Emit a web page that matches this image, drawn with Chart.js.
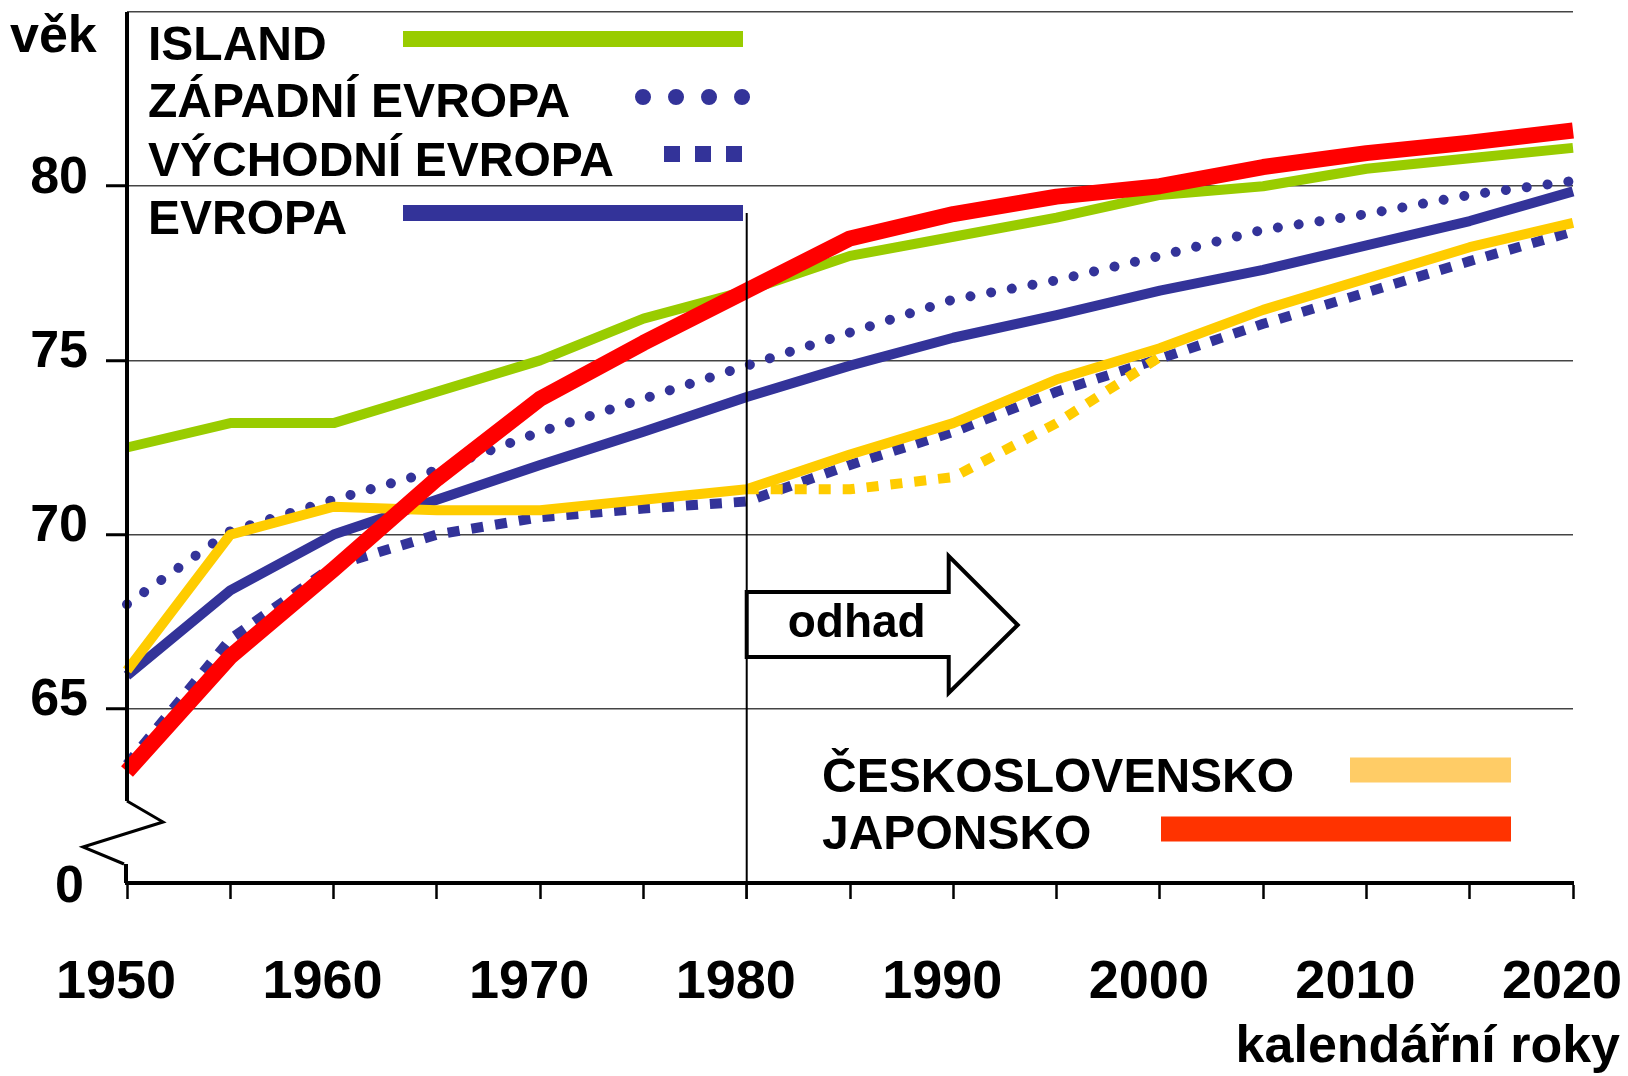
<!DOCTYPE html>
<html lang="cs">
<head>
<meta charset="utf-8">
<title>Naděje dožití</title>
<script src="https://cdn.jsdelivr.net/npm/chart.js@4.4.1/dist/chart.umd.min.js"></script>
<style>
  html, body { margin: 0; padding: 0; background: #fff; }
  #wrap { width: 1628px; height: 1076px; }
</style>
</head>
<body>
<div id="wrap"><canvas id="lifeChart" width="1628" height="1076"></canvas></div>
<script>
// data (věk v letech), čteno z grafu
const years = [1950, 1955, 1960, 1965, 1970, 1975, 1980, 1985, 1990, 1995, 2000, 2005, 2010, 2015, 2020];
const island = [72.5, 73.2, 73.2, 74.1, 75.0, 76.2, 77.0, 78.0, 78.55, 79.1, 79.75, 80.0, 80.5, 80.8, 81.1];
const japonsko = [63.2, 66.5, 69.0, 71.6, 73.9, 75.5, 77.0, 78.5, 79.2, 79.7, 80.0, 80.55, 80.95, 81.25, 81.6];
const zapadniEvropa = [68.0, 70.1, 71.0, 71.85, 72.95, 73.9, 74.85, 75.8, 76.75, 77.3, 78.0, 78.75, 79.2, 79.75, 80.15];
const evropa = [65.95, 68.4, 70.0, 71.0, 72.0, 72.95, 73.95, 74.85, 75.65, 76.3, 77.0, 77.6, 78.3, 79.0, 79.85];
const vychodniEvropa = [63.4, 67.0, 69.1, 70.0, 70.5, 70.75, 70.95, 72.0, 72.95, 74.1, 75.05, 76.05, 76.95, 77.85, 78.7];
const ceskoslovensko = [66.1, 70.0, 70.8, 70.7, 70.7, 71.0, 71.3, 72.3, 73.2, 74.45, 75.35, 76.45, 77.35, 78.25, 78.95];
const ceskoslovenskoAlt = [null, null, null, null, null, null, 71.3, 71.3, 71.65, 73.2, 75.1, null, null, null, null];
const yMin = 60;   // přerušená osa, popsáno jako 0
const yMax = 85;
const yStep = 5;
const forecastFrom = 1980;

const FONT = "'Liberation Sans', Arial, sans-serif";
Chart.defaults.font.family = FONT;

// where the legend entries sit (drawn by hand, like the original slide)
const legendSlots = [
    { label: 'ISLAND', textX: 148, textY: 60, x1: 403, x2: 743, y: 39, width: 16 },
    { label: 'ZÁPADNÍ EVROPA', textX: 148, textY: 117, x1: 643, x2: 743, y: 97, width: 16, dash: [0.01, 33], cap: 'round' },
    { label: 'VÝCHODNÍ EVROPA', textX: 148, textY: 176, x1: 664, x2: 743, y: 154, width: 16, dash: [16, 15] },
    { label: 'EVROPA', textX: 148, textY: 234, x1: 403, x2: 743, y: 213, width: 16 },
    { label: 'ČESKOSLOVENSKO', textX: 822, textY: 792, x1: 1350, x2: 1511, y: 770, width: 25, color: '#FFCC66' },
    { label: 'JAPONSKO', textX: 822, textY: 849, x1: 1161, x2: 1511, y: 829, width: 25, color: '#FF3300' }
];

const overlay = {
    id: 'overlay',
    afterDraw(chart) {
        const ctx = chart.ctx;
        const area = chart.chartArea;
        const xs = chart.scales.x;
        const ys = chart.scales.y;
        const x80 = xs.getPixelForValue(years.indexOf(forecastFrom));
        ctx.save();

        // y axis with break
        const left = area.left;
        const bottom = area.bottom;
        ctx.strokeStyle = '#000';
        ctx.lineWidth = 4;
        ctx.lineJoin = 'miter';
        ctx.beginPath();
        ctx.moveTo(left, area.top);
        ctx.lineTo(left, bottom - 82);
        ctx.stroke();
        ctx.lineWidth = 3;
        ctx.beginPath();
        ctx.moveTo(left, bottom - 82);
        ctx.lineTo(left + 36, bottom - 61);
        ctx.lineTo(left - 44, bottom - 36);
        ctx.lineTo(left - 3, bottom - 19);
        ctx.stroke();
        ctx.lineWidth = 4;
        ctx.beginPath();
        ctx.moveTo(left - 1, bottom - 19);
        ctx.lineTo(left - 1, bottom);
        ctx.stroke();

        // label of the broken origin
        ctx.fillStyle = '#000';
        ctx.font = 'bold 52px ' + FONT;
        ctx.textAlign = 'right';
        ctx.textBaseline = 'middle';
        ctx.fillText('0', 84, ys.getPixelForValue(yMin) + 5);

        // 1980 divider
        ctx.lineWidth = 2;
        ctx.beginPath();
        ctx.moveTo(x80, 213);
        ctx.lineTo(x80, bottom + 16);
        ctx.stroke();

        // odhad arrow
        ctx.lineWidth = 4;
        ctx.fillStyle = '#fff';
        ctx.beginPath();
        ctx.moveTo(x80, 592);
        ctx.lineTo(x80 + 202, 592);
        ctx.lineTo(x80 + 202, 556);
        ctx.lineTo(x80 + 271, 625);
        ctx.lineTo(x80 + 202, 693);
        ctx.lineTo(x80 + 202, 657);
        ctx.lineTo(x80, 657);
        ctx.closePath();
        ctx.fill();
        ctx.stroke();
        ctx.fillStyle = '#000';
        ctx.font = 'bold 46px ' + FONT;
        ctx.textAlign = 'center';
        ctx.textBaseline = 'alphabetic';
        ctx.fillText('odhad', x80 + 110, 637);

        // axis titles
        ctx.font = 'bold 52px ' + FONT;
        ctx.textAlign = 'left';
        ctx.fillText('věk', 10, 52);
        ctx.textAlign = 'right';
        ctx.fillText('kalendářní roky', 1620, 1062);

        // legend
        ctx.font = 'bold 48px ' + FONT;
        ctx.textAlign = 'left';
        legendSlots.forEach(slot => {
            const ds = chart.data.datasets.find(d => d.label === slot.label);
            ctx.fillStyle = '#000';
            ctx.fillText(slot.label, slot.textX, slot.textY);
            ctx.strokeStyle = slot.color || ds.borderColor;
            ctx.lineWidth = slot.width;
            ctx.lineCap = slot.cap || 'butt';
            ctx.setLineDash(slot.dash || []);
            ctx.beginPath();
            ctx.moveTo(slot.x1, slot.y);
            ctx.lineTo(slot.x2, slot.y);
            ctx.stroke();
            ctx.setLineDash([]);
        });
        ctx.restore();
    }
};

function makeLine(label, data, color, width, extra) {
    return Object.assign({
        label: label,
        data: data,
        borderColor: color,
        backgroundColor: color,
        borderWidth: width,
        pointRadius: 0,
        tension: 0,
        fill: false,
        spanGaps: false,
        borderJoinStyle: 'round'
    }, extra || {});
}

function initLifeChart() {
    const ctx = document.getElementById('lifeChart').getContext('2d');
    new Chart(ctx, {
        type: 'line',
        data: {
            labels: years,
            // first dataset is drawn on top
            datasets: [
                makeLine('JAPONSKO', japonsko, '#FF0000', 16),
                makeLine('ISLAND', island, '#99CC00', 10),
                makeLine('ČESKOSLOVENSKO', ceskoslovensko, '#FFCC00', 10),
                makeLine('ČESKOSLOVENSKO (varianta)', ceskoslovenskoAlt, '#FFCC00', 10, { borderDash: [12, 12] }),
                makeLine('EVROPA', evropa, '#333399', 10),
                makeLine('ZÁPADNÍ EVROPA', zapadniEvropa, '#333399', 10, { borderDash: [0.01, 21], borderCapStyle: 'round' }),
                makeLine('VÝCHODNÍ EVROPA', vychodniEvropa, '#333399', 10, { borderDash: [12, 12] })
            ]
        },
        options: {
            responsive: false,
            animation: false,
            layout: { padding: { top: 12, right: 55, left: 0, bottom: 0 } },
            plugins: {
                legend: { display: false },
                tooltip: { enabled: false }
            },
            scales: {
                x: {
                    type: 'category',
                    offset: false,
                    grid: {
                        drawOnChartArea: false,
                        tickLength: 16,
                        tickWidth: 2.5,
                        tickColor: '#000'
                    },
                    border: { display: true, color: '#000', width: 4 },
                    ticks: {
                        autoSkip: false,
                        maxRotation: 0,
                        padding: 52,
                        labelOffset: -11,
                        color: '#000',
                        font: { size: 54, weight: 'bold' },
                        callback: (v, i) => years[i] % 10 === 0 ? String(years[i]) : ''
                    },
                    afterFit: s => {
                        s.height = 193;
                        s.paddingLeft = 0;
                        s.paddingRight = 0;
                    }
                },
                y: {
                    min: yMin,
                    max: yMax,
                    grid: {
                        color: c => c.tick && c.tick.value === yMin ? 'rgba(0,0,0,0)' : '#444',
                        lineWidth: 1.5,
                        tickLength: 21,
                        tickWidth: 3,
                        tickColor: c => c.tick && (c.tick.value === yMin || c.tick.value === yMax) ? 'rgba(0,0,0,0)' : '#000'
                    },
                    border: { display: false },
                    ticks: {
                        stepSize: yStep,
                        padding: 18,
                        labelOffset: -8,
                        color: '#000',
                        font: { size: 52, weight: 'bold' },
                        // 0 is drawn by the overlay, below the axis break
                        callback: v => (v === yMin || v === yMax) ? '' : String(v)
                    },
                    afterFit: s => {
                        s.width = 127;
                        s.paddingTop = 0;
                        s.paddingBottom = 0;
                    }
                }
            }
        },
        plugins: [overlay]
    });
}

document.addEventListener('DOMContentLoaded', () => {
    initLifeChart();
});
</script>
</body>
</html>
